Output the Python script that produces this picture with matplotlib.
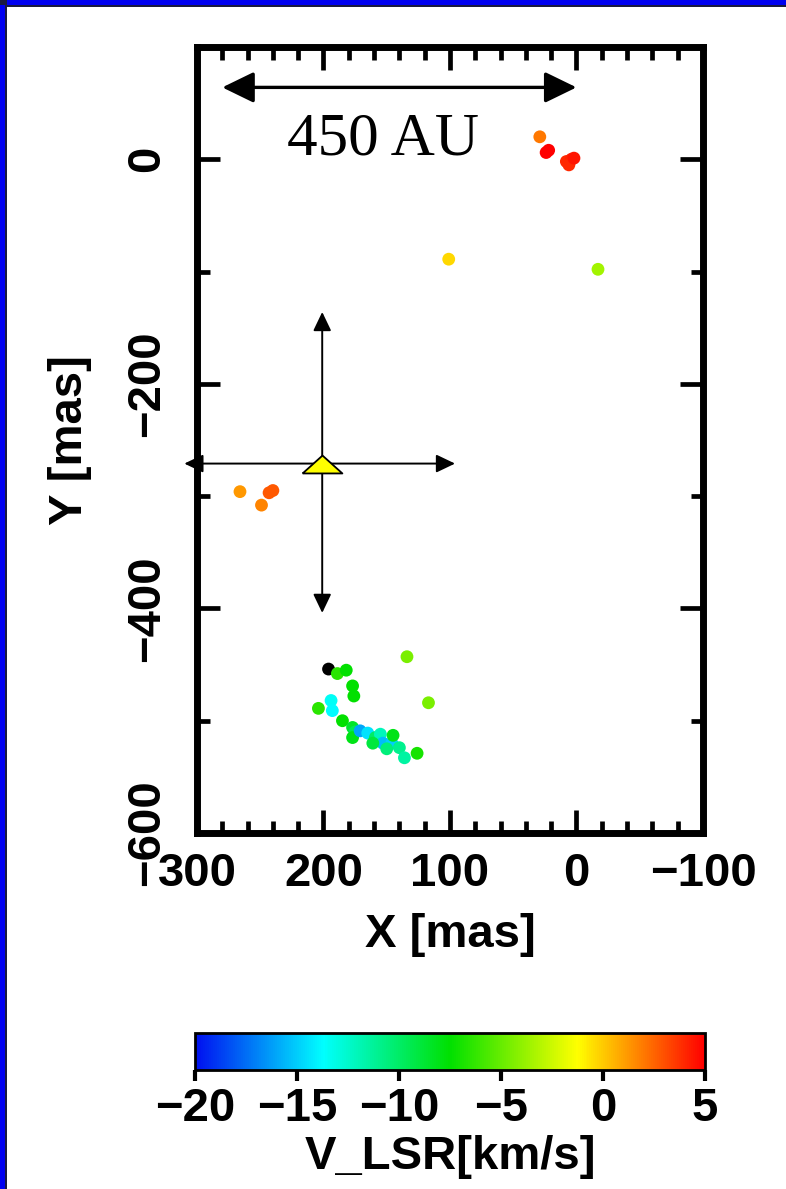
import matplotlib
matplotlib.use('Agg')
import matplotlib.pyplot as plt
from matplotlib.colors import LinearSegmentedColormap, Normalize
from matplotlib.patches import Rectangle
from matplotlib.ticker import MultipleLocator

plt.rcParams['font.family'] = ['Liberation Sans', 'DejaVu Sans']
plt.rcParams['font.weight'] = 'bold'

# maser spots: offsets (mas) and V_LSR (km/s)
x_mas = [29, 24, 22, 8, 4, 6, 2, 101, -17,
         266, 249, 240, 243,
         196, 189, 182, 177, 176, 134, 117, 204, 194, 193, 185, 177, 175,
         177, 171, 165, 159, 155, 153, 146, 145, 140, 136, 126, 161, 150]
y_mas = [20, 6, 8, -2, 0, -5, 1, -89, -98,
         -296, -308, -295, -297,
         -454, -458, -455, -469, -478, -443, -484, -489, -482, -491, -500, -506, -510,
         -515, -509, -511, -515, -512, -520, -520, -513, -524, -533, -529, -520, -525]
v_lsr = [2.0, 5.0, 5.0, 4.0, 4.2, 4.0, 4.5, -0.3, -3.5,
         1.2, 1.7, 2.8, 2.8,
         -25, -6.5, -7.5, -7.5, -7.5, -4.5, -4.5, -6.5, -13.5, -13.8, -7.5, -8.5, -9.5,
         -8.0, -16.0, -14.5, -10.0, -12.0, -15.5, -15.0, -8.0, -11.0, -11.5, -7.0, -9.0, -10.5]

# central source and its cross
star_x = [201]
star_y = [-271]
cross_h_x = [310, 96]
cross_v_y = [-136, -404]

# scale bar
bar_x = [280, 0]
bar_y = 64
bar_text = '450 AU'

cbar_ticks = [-20, -15, -10, -5, 0, 5]

cmap = LinearSegmentedColormap.from_list(
    'idl_rainbow', ['#0010f0', '#00ffff', '#00e000', '#ffff00', '#ff0000'])
cmap.set_under('black')
norm = Normalize(-20, 5)

fig = plt.figure(figsize=(7.86, 11.89), dpi=100)
fig.patch.set_facecolor('white')

# slide frame (top and left)
fig.add_artist(Rectangle((0, 1 - 7 / 1189), 1, 7 / 1189, transform=fig.transFigure,
                         facecolor='#1a1a40', edgecolor='none'))
fig.add_artist(Rectangle((0, 1 - 5 / 1189), 1, 5 / 1189, transform=fig.transFigure,
                         facecolor='#0000f0', edgecolor='none'))
fig.add_artist(Rectangle((0, 0), 7 / 786, 1, transform=fig.transFigure,
                         facecolor='#1a1a40', edgecolor='none'))
fig.add_artist(Rectangle((0, 0), 4.5 / 786, 1 - 5 / 1189, transform=fig.transFigure,
                         facecolor='#0000f0', edgecolor='none'))

ax = fig.add_axes([0.2506, 0.2994, 0.6438, 0.6611])
ax.set_facecolor('white')

sc = ax.scatter(x_mas, y_mas, c=v_lsr, cmap=cmap, norm=norm, s=85,
                marker='o', linewidths=0, zorder=3)

ax.set_xlim(300, -100)
ax.set_ylim(-600, 100)

for sp in ax.spines.values():
    sp.set_linewidth(5)

ax.xaxis.set_major_locator(MultipleLocator(100))
ax.xaxis.set_minor_locator(MultipleLocator(20))
ax.yaxis.set_major_locator(MultipleLocator(200))
ax.yaxis.set_minor_locator(MultipleLocator(100))
ax.tick_params(which='both', direction='in', top=True, right=True, width=3.4)
ax.tick_params(which='major', length=16.5, labelsize=34)
ax.tick_params(which='minor', length=9)
ax.tick_params(axis='x', which='major', pad=14)
ax.tick_params(axis='y', which='major', pad=20)
plt.setp(ax.get_yticklabels(), rotation=90, va='center')

ax.set_xlabel('X [mas]', fontsize=34, weight='bold', labelpad=12)
ax.set_ylabel('Y [mas]', fontsize=34, weight='bold', labelpad=24)

# cross of arrows through the source
arr_small = dict(arrowstyle='<|-|>,head_length=1.15,head_width=0.55',
                 mutation_scale=10, color='black', lw=1.4, shrinkA=0, shrinkB=0)
ax.annotate('', xy=(cross_h_x[1], star_y[0]), xytext=(cross_h_x[0], star_y[0]),
            arrowprops=arr_small, annotation_clip=False, zorder=4)
ax.annotate('', xy=(star_x[0], cross_v_y[1]), xytext=(star_x[0], cross_v_y[0]),
            arrowprops=arr_small, annotation_clip=False, zorder=4)
tri = [(-1, -0.45), (1, -0.45), (0, 0.45), (-1, -0.45)]
ax.scatter(star_x, star_y, marker=tri, s=820, c='#ffff00', edgecolors='black',
           linewidths=1.3, zorder=5)

# scale bar
arr_big = dict(arrowstyle='<|-|>,head_length=1.95,head_width=0.95',
               mutation_scale=10, color='black', lw=2.4, shrinkA=0, shrinkB=0)
ax.annotate('', xy=(bar_x[1], bar_y), xytext=(bar_x[0], bar_y),
            arrowprops=arr_big, zorder=4)
ax.text(153, 4, bar_text, family='Liberation Serif', weight='normal',
        fontsize=44, ha='center', va='baseline', zorder=4)

# colour bar
cax = fig.add_axes([0.2481, 0.1001, 0.6489, 0.0311])
cb = fig.colorbar(sc, cax=cax, orientation='horizontal', ticks=cbar_ticks)
cb.outline.set_linewidth(2)
cax.tick_params(direction='out', length=8, width=3, labelsize=34, pad=4)
cb.set_label('V_LSR[km/s]', fontsize=34, weight='bold', labelpad=3)

fig.savefig('out.png', dpi=100)
